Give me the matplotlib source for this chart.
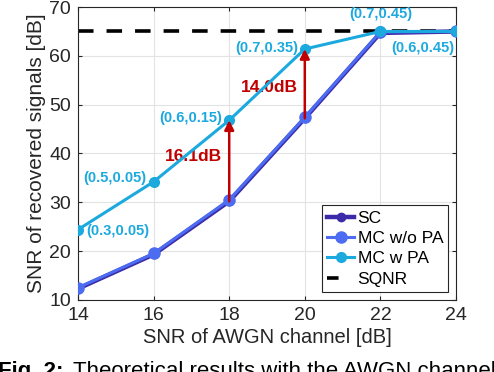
import matplotlib
matplotlib.use("Agg")
import matplotlib.pyplot as plt
from matplotlib.lines import Line2D
import numpy as np

plt.rcParams['font.family'] = ['Liberation Sans', 'DejaVu Sans']

# data
snr_awgn = [14, 16, 18, 20, 22, 24]
sc = [12.3, 19.3, 30.2, 47.2, 64.7, 65.0]
mc_wo_pa = [12.5, 19.5, 30.5, 47.4, 64.9, 65.0]
mc_w_pa = [24.4, 34.2, 46.8, 61.4, 65.0, 65.0]
sqnr = 65.0
pa_labels = ['(0.3,0.05)', '(0.5,0.05)', '(0.6,0.15)', '(0.7,0.35)', '(0.7,0.45)', '(0.6,0.45)']
gain_x = [18, 20]
gain_text = ['16.1dB', '14.0dB']

c_sc = '#3B2BA8'
c_mc = '#4C6CF2'
c_pa = '#1CA9DE'
c_red = '#C00000'
c_ax = '#262626'

fig = plt.figure(figsize=(4.94, 3.72), dpi=100)
ax = fig.add_axes([0.158, 0.194, 0.765, 0.787])

ax.plot([14, 24], [sqnr, sqnr], '--', color='k', lw=2.6, dashes=(4.3, 3.6), zorder=2)
l_sc, = ax.plot(snr_awgn, sc, '-o', color=c_sc, lw=3.2, ms=6, zorder=3)
l_mc, = ax.plot(snr_awgn, mc_wo_pa, '-o', color=c_mc, lw=2.2, ms=8, zorder=4)
l_pa, = ax.plot(snr_awgn, mc_w_pa, '-o', color=c_pa, lw=2.2, ms=7, zorder=5)

# gain arrows
text_dy = [0.8, -0.7]
for gx, txt, dy in zip(gain_x, gain_text, text_dy):
    i = snr_awgn.index(gx)
    ax.annotate('', xy=(gx, mc_w_pa[i]), xytext=(gx, sc[i]),
                arrowprops=dict(arrowstyle='-|>', color=c_red, lw=1.8,
                                mutation_scale=14, shrinkA=0, shrinkB=0),
                zorder=6)
    ax.text(gx - 0.18, (mc_w_pa[i] + sc[i]) / 2 + dy, txt, color=c_red,
            fontsize=12.5, fontweight='bold', ha='right', va='center')

# PA parameter labels
offsets = [(6, -1, 'left'), (-5, 3, 'right'), (-5, 1.5, 'right'),
           (-5, 0.5, 'right'), (0, 12.5, 'center'), (-1, -12, 'right')]
for x, y, lab, (dx, dy, ha) in zip(snr_awgn, mc_w_pa, pa_labels, offsets):
    ax.annotate(lab, (x, y), xytext=(dx, dy), textcoords='offset points',
                color=c_pa, fontsize=10.5, fontweight='bold', ha=ha, va='center')

ax.set_xlim(14, 24)
ax.set_ylim(10, 70)
ax.set_xticks([14, 16, 18, 20, 22, 24])
ax.set_yticks([10, 20, 30, 40, 50, 60, 70])
ax.tick_params(labelsize=14, colors=c_ax, direction='in', length=3,
               top=True, right=True, pad=5)
ax.grid(True, color='#E3E3E3', lw=0.8)
ax.set_axisbelow(True)
for s in ax.spines.values():
    s.set_color(c_ax)
    s.set_linewidth(0.8)
ax.set_xlabel('SNR of AWGN channel [dB]', fontsize=14.5, color=c_ax, labelpad=3)
ax.set_ylabel('SNR of recovered signals [dB]', fontsize=15, color=c_ax, labelpad=2)

# legend: SQNR entry shows a single dash like the original
h_sqnr = Line2D([], [], color='k', lw=2.6, dashes=(3.2, 20))
leg = ax.legend([l_sc, l_mc, l_pa, h_sqnr], ['SC', 'MC w/o PA', 'MC w PA', 'SQNR'],
                loc='lower right', fontsize=12.5, fancybox=False, edgecolor=c_ax,
                framealpha=1, handlelength=1.55, handletextpad=0.2, borderpad=0.3,
                labelspacing=0.3, borderaxespad=0, bbox_to_anchor=(0.98, 0.027))
leg.get_frame().set_linewidth(0.8)

fig.text(-0.005, -0.0135, 'Fig. 2:', fontsize=16, fontweight='bold',
         ha='left', va='baseline')
fig.text(0.148, -0.0135, 'Theoretical results with the AWGN channel',
         fontsize=16, ha='left', va='baseline')

fig.savefig('out.png', dpi=100)
